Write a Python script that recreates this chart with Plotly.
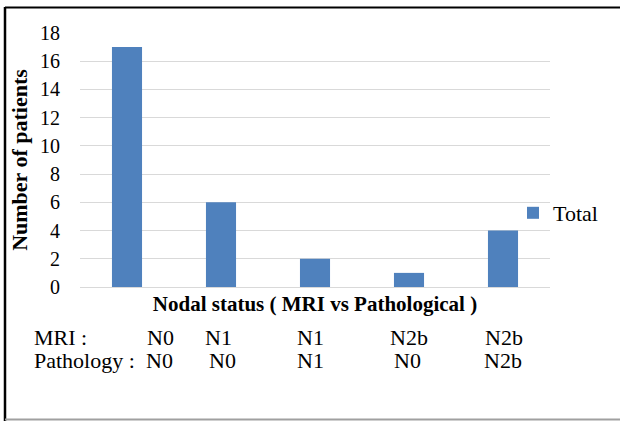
import plotly.graph_objects as go

# ---- data ----
mri_labels = ["N0", "N1", "N1", "N2b", "N2b"]
path_labels = ["N0", "N0", "N1", "N0", "N2b"]
totals = [17, 6, 2, 1, 4]
y_ticks = [0, 2, 4, 6, 8, 10, 12, 14, 16, 18]
categories = [f"{m} / {p}" for m, p in zip(mri_labels, path_labels)]

W, H = 620, 421
ML, MR, MT, MB = 80, 70, 33, 134
PW, PH = W - ML - MR, H - MT - MB

def px(x):
    return (x - ML) / PW

def py(y):
    return (H - MB - y) / PH

FONT = "'Liberation Serif', 'Times New Roman', Times, serif"
BLUE = "#4F81BD"

fig = go.Figure()
fig.add_trace(go.Bar(x=categories, y=totals, name="Total", marker=dict(color=BLUE, line=dict(width=0)),
                     showlegend=True))

annotations = []
annotations.append(dict(text="MRI :", x=px(32), y=py(337), xref="paper", yref="paper",
                        xanchor="left", yanchor="middle", showarrow=False, font=dict(size=22)))
annotations.append(dict(text="Pathology :", x=px(32), y=py(360), xref="paper", yref="paper",
                        xanchor="left", yanchor="middle", showarrow=False, font=dict(size=22)))
mri_shift = [33, -3, -5, 0, 1]
path_shift = [32, 1, -5, -2, 0]
for i, c in enumerate(categories):
    annotations.append(dict(text=mri_labels[i], x=c, xref="x", y=py(337), yref="paper",
                            xshift=mri_shift[i], xanchor="center", yanchor="middle",
                            showarrow=False, font=dict(size=22)))
    annotations.append(dict(text=path_labels[i], x=c, xref="x", y=py(360), yref="paper",
                            xshift=path_shift[i], xanchor="center", yanchor="middle",
                            showarrow=False, font=dict(size=22)))

shapes = [
    dict(type="line", xref="paper", yref="paper", x0=px(5), x1=px(620), y0=py(7.5), y1=py(7.5),
         line=dict(color="black", width=2)),
    dict(type="line", xref="paper", yref="paper", x0=px(5), x1=px(5), y0=py(7), y1=py(421),
         line=dict(color="black", width=2.5)),
    dict(type="line", xref="paper", yref="paper", x0=px(5), x1=px(620), y0=py(419.5), y1=py(419.5),
         line=dict(color="#A0A0A0", width=2)),
]

fig.update_layout(
    width=W, height=H,
    margin=dict(l=ML, r=MR, t=MT, b=MB, pad=0),
    paper_bgcolor="white", plot_bgcolor="white",
    font=dict(family=FONT, size=20, color="black"),
    bargap=0.68,
    xaxis=dict(showticklabels=False, showgrid=False, zeroline=False, showline=False, ticks="",
               title=dict(text="<b>Nodal status ( MRI vs Pathological )</b>", standoff=9,
                          font=dict(size=21))),
    yaxis=dict(range=[0, 18], tickvals=y_ticks, showgrid=True, gridcolor="#D9D9D9", gridwidth=1,
               zeroline=True, zerolinecolor="#D9D9D9", zerolinewidth=1, showline=False,
               ticks="", ticklabelstandoff=19, tickfont=dict(size=20),
               title=dict(text="<b>Number of patients</b>", standoff=6, font=dict(size=22))),
    legend=dict(x=px(513), y=py(213), xanchor="left", yanchor="middle", bgcolor="rgba(0,0,0,0)",
                font=dict(size=22), borderwidth=0),
    annotations=annotations,
    shapes=shapes,
)

fig.write_html("out.html", config={"displayModeBar": False},
               post_script="document.body.style.margin='0';")
